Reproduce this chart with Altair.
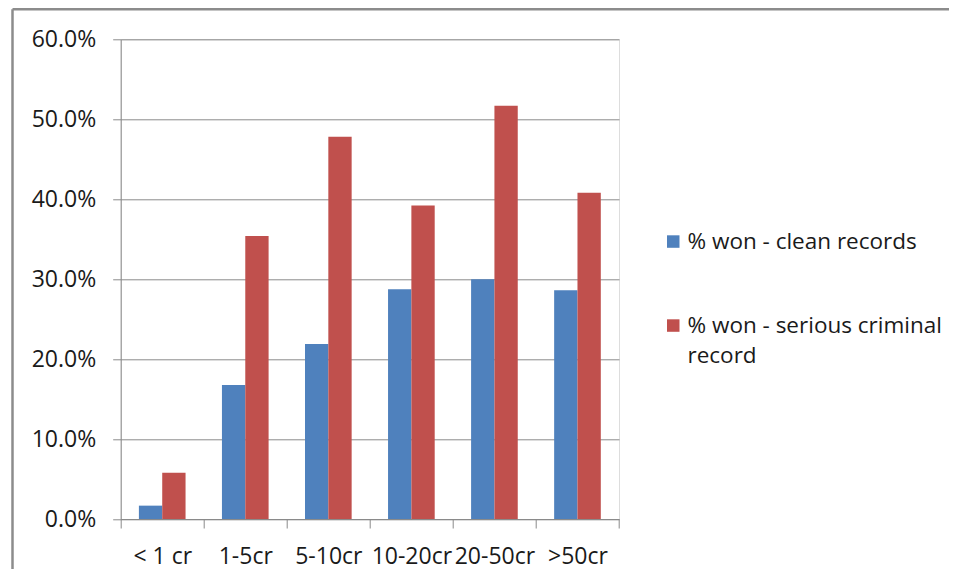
import altair as alt
import pandas as pd

categories = ["< 1 cr", "1-5cr", "5-10cr", "10-20cr", "20-50cr", ">50cr"]
series = ["% won - clean records", "% won - serious criminal record"]
clean = [0.0167, 0.1675, 0.219, 0.2875, 0.300, 0.286]
criminal = [0.058, 0.354, 0.478, 0.392, 0.517, 0.408]
y_ticks = [0.0, 0.1, 0.2, 0.3, 0.4, 0.5, 0.6]
colors = ["#4F81BD", "#C0504D"]

rows = []
for c, a, b in zip(categories, clean, criminal):
    rows.append({"cat": c, "series": series[0], "value": a})
    rows.append({"cat": c, "series": series[1], "value": b})
df = pd.DataFrame(rows)

FONT = "Open Sans"
GRID = "#8a8a8a"
TXT = "#1a1a1a"

bars = alt.Chart(df).mark_bar().encode(
    x=alt.X("cat:N", sort=categories, title=None,
            scale=alt.Scale(paddingInner=0, paddingOuter=0),
            axis=alt.Axis(labelAngle=0, tickBand="extent", tickSize=9,
                          tickColor=GRID, domainColor=GRID, labelPadding=17,
                          labelFontSize=23, labelFont=FONT, labelColor=TXT,
                          grid=False)),
    xOffset=alt.XOffset("series:N", sort=series,
                        scale=alt.Scale(paddingInner=0, paddingOuter=0.78)),
    y=alt.Y("value:Q", title=None,
            scale=alt.Scale(domain=[0, 0.6], nice=False),
            axis=alt.Axis(values=y_ticks, format=".1%", tickSize=8,
                          tickColor=GRID, domainColor=GRID, gridColor=GRID,
                          labelPadding=17, labelFontSize=23, labelFont=FONT,
                          labelColor=TXT)),
    color=alt.Color("series:N", sort=series,
                    scale=alt.Scale(domain=series, range=colors),
                    legend=alt.Legend(title=None, orient="none",
                                      legendX=541.3, legendY=191,
                                      symbolType="square", symbolSize=156,
                                      symbolStrokeWidth=0, labelOffset=3,
                                      labelFontSize=22.5, labelFont=FONT,
                                      labelColor=TXT, labelLimit=400,
                                      rowPadding=61, padding=0,
                                      labelExpr="datum.label == '% won - serious criminal record' ? ['% won - serious criminal', 'record'] : datum.label")),
)

frame_df = pd.DataFrame({"k": [0]})
frame_left = alt.Chart(frame_df).mark_rule(color="#8c8c8c", strokeWidth=2.5).encode(
    x=alt.value(-108.2), y=alt.value(-30.0), y2=alt.value(545)
)
frame_top = alt.Chart(frame_df).mark_rule(color="#8c8c8c", strokeWidth=2.5).encode(
    x=alt.value(-108.2), x2=alt.value(845), y=alt.value(-30.0)
)

chart = alt.layer(bars, frame_left, frame_top).properties(
    width=498.3, height=479.7,
    autosize=alt.AutoSizeParams(type="none"),
    padding={"left": 112.7, "top": 31.3, "right": 330, "bottom": 50},
).configure_view(stroke=None).configure(
    background="white",
    style={"guide-label": {"lineHeight": 30}},
)

chart.save("out.html", embed_options={"renderer": "svg", "actions": False})
